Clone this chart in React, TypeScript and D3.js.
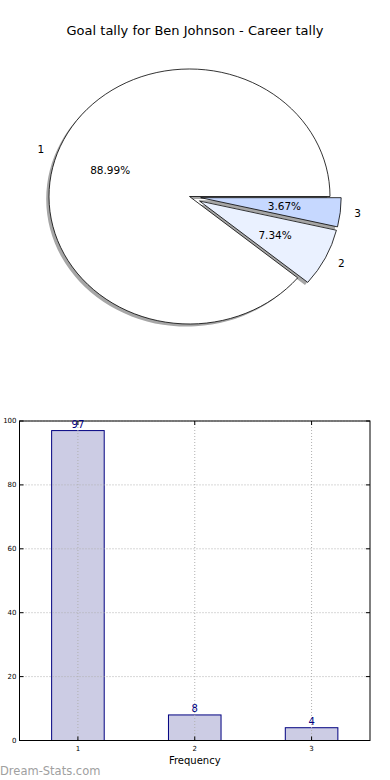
import React from "react";
import * as d3 from "d3";

const categories = ["1", "2", "3"];
const counts = [97, 8, 4];
const explode = [0, 0.08, 0.08];
const pieColors = ["#ffffff", "#eaf1ff", "#c6d8ff"];
const yTicks = [0, 20, 40, 60, 80, 100];
const title = "Goal tally for Ben Johnson - Career tally";
const xLabel = "Frequency";
const watermark = "Dream-Stats.com";

const W = 390;
const H = 780;
const FONT = "DejaVu Sans, sans-serif";

export default function App() {
  const cx = 189.5, cy = 196.5, rx = 140.5, ry = 127.5;
  const total = d3.sum(counts);
  const pie = d3
    .pie<number>()
    .sort(null)
    .startAngle(Math.PI / 2)
    .endAngle(Math.PI / 2 - 2 * Math.PI);
  const arcs = pie(counts);
  const arcGen = d3.arc<any>().innerRadius(0).outerRadius(1);
  const shadowDx = -2.8, shadowDy = 2.6;

  const slices = arcs.map((a, i) => {
    const m = (a.startAngle + a.endAngle) / 2;
    const dx = Math.sin(m), dy = -Math.cos(m);
    const e = explode[i];
    return {
      d: arcGen({ startAngle: a.startAngle, endAngle: a.endAngle }) as string,
      ox: e * dx,
      oy: e * dy,
      dx,
      dy,
      e,
      pct: ((counts[i] / total) * 100).toFixed(2) + "%",
    };
  });

  const left = 19.5, right = 370, top = 421, bottom = 740.5;
  const x = d3.scaleLinear().domain([0.5, 3.5]).range([left, right]);
  const y = d3.scaleLinear().domain([0, 100]).range([bottom, top]);
  const barW = 0.45;

  return (
    <svg
      width={W}
      height={H}
      style={{ position: "absolute", left: 0, top: 0, background: "#fff" }}
      fontFamily={FONT}
    >
      <rect width={W} height={H} fill="#fff" />
      <text x={195} y={35} textAnchor="middle" fontSize={13} fill="#000">
        {title}
      </text>

      {slices.map((s, i) => (
        <g key={"sh" + i} transform={`translate(${cx + shadowDx},${cy + shadowDy}) scale(${rx},${ry})`}>
          <path d={s.d} transform={`translate(${s.ox},${s.oy})`} fill="#a6a6a6" stroke="none" />
        </g>
      ))}
      {slices.map((s, i) => (
        <g key={"w" + i} transform={`translate(${cx},${cy}) scale(${rx},${ry})`}>
          <path
            d={s.d}
            transform={`translate(${s.ox},${s.oy})`}
            fill={pieColors[i]}
            stroke="#000"
            strokeWidth={0.8}
            vectorEffect="non-scaling-stroke"
            strokeLinejoin="round"
          />
        </g>
      ))}
      {slices.map((s, i) => {
        const lx = cx + (1.1 + s.e) * rx * s.dx;
        const ly = cy + (1.1 + s.e) * ry * s.dy;
        const px = cx + (0.6 + s.e) * rx * s.dx;
        const py = cy + (0.6 + s.e) * ry * s.dy;
        return (
          <g key={"l" + i} fontSize={10.5} fill="#000">
            <text x={lx} y={ly} dy="0.35em" textAnchor={s.dx > 0 ? "start" : "end"}>
              {categories[i]}
            </text>
            <text x={px} y={py} dy="0.35em" textAnchor="middle">
              {s.pct}
            </text>
          </g>
        );
      })}

      {counts.map((v, i) => {
        const c = i + 1;
        return (
          <rect
            key={"b" + i}
            x={x(c - barW / 2)}
            y={y(v)}
            width={x(c + barW / 2) - x(c - barW / 2)}
            height={y(0) - y(v)}
            fill="#ccccE4"
            stroke="#000080"
            strokeWidth={1}
          />
        );
      })}
      {yTicks.map((t) => (
        <line key={"gy" + t} x1={left} x2={right} y1={y(t)} y2={y(t)} stroke="#b0b0b0" strokeWidth={1} strokeDasharray="1,2" />
      ))}
      {categories.map((c, i) => (
        <line key={"gx" + c} x1={x(i + 1)} x2={x(i + 1)} y1={top} y2={bottom} stroke="#b0b0b0" strokeWidth={1} strokeDasharray="1,2" />
      ))}
      <rect x={left} y={top} width={right - left} height={bottom - top} fill="none" stroke="#000" strokeWidth={1} />
      {yTicks.map((t) => (
        <g key={"ty" + t}>
          <line x1={left} x2={left + 4} y1={y(t)} y2={y(t)} stroke="#000" />
          <line x1={right} x2={right - 4} y1={y(t)} y2={y(t)} stroke="#000" />
          <text x={left - 3} y={y(t)} dy="0.35em" textAnchor="end" fontSize={7} fill="#000">
            {t}
          </text>
        </g>
      ))}
      {categories.map((c, i) => (
        <g key={"tx" + c}>
          <line x1={x(i + 1)} x2={x(i + 1)} y1={bottom} y2={bottom - 4} stroke="#000" />
          <line x1={x(i + 1)} x2={x(i + 1)} y1={top} y2={top + 4} stroke="#000" />
          <text x={x(i + 1)} y={bottom + 10} textAnchor="middle" fontSize={7} fill="#000">
            {c}
          </text>
        </g>
      ))}
      {counts.map((v, i) => (
        <text key={"v" + i} x={x(i + 1)} y={y(v) - 3} textAnchor="middle" fontSize={10} fill="#000080">
          {v}
        </text>
      ))}
      <text x={(left + right) / 2} y={764} textAnchor="middle" fontSize={10} fill="#000">
        {xLabel}
      </text>
      <text x={0} y={775} fontSize={11.5} fill="#a0a0a0">
        {watermark}
      </text>
    </svg>
  );
}
